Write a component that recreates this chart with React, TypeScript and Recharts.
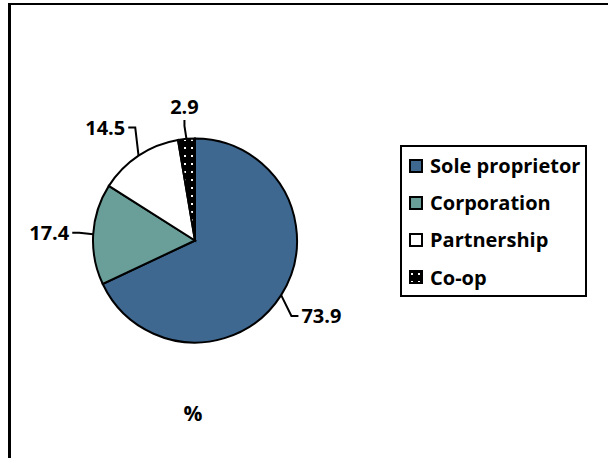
import { Cell, Legend, Pie, PieChart } from "recharts";

const categories = ["Sole proprietor", "Corporation", "Partnership", "Co-op"];
const shares = [73.9, 17.4, 14.5, 2.9];
const sliceColors = ["#3F6891", "#6A9E99", "#FFFFFF", "url(#coopDots)"];

const FONT = "'Open Sans', Lato, sans-serif";
const LABEL_SIZE = 20;

const data = categories.map((name, i) => ({ name, value: shares[i] }));

let measureCtx: CanvasRenderingContext2D | null = null;
function textWidth(text: string): number {
  if (!measureCtx) measureCtx = document.createElement("canvas").getContext("2d");
  if (!measureCtx) return text.length * LABEL_SIZE * 0.55;
  measureCtx.font = `bold ${LABEL_SIZE}px ${FONT}`;
  return measureCtx.measureText(text).width;
}

// excel-ish "best fit" labels: box corner sits just outside the rim,
// leader runs from the box side back to the middle of the slice edge
function renderLabel(props: any) {
  const { cx, cy, midAngle, outerRadius, value } = props;
  const rad = (-midAngle * Math.PI) / 180;
  const dx = Math.cos(rad);
  const dy = Math.sin(rad);
  const ex = cx + outerRadius * dx;
  const ey = cy + outerRadius * dy;
  const ax = cx + (outerRadius + 24) * dx;
  const ay = cy + (outerRadius + 24) * dy;
  const text = Number(value).toFixed(1);
  const w = textWidth(text);
  const h = 16;

  const left = dx > 0.25 ? ax : dx < -0.25 ? ax - w : ax - w / 2;
  const top = dy > 0.25 ? ay : dy < -0.25 ? ay - h : ay - h / 2;
  const tx = left + w / 2;
  const ty = top + h / 2;

  let points: string;
  if (Math.abs(dx) > 0.25) {
    const sx = dx > 0 ? left - 3 : left + w + 3;
    const kx = sx - Math.sign(dx) * 7;
    points = `${sx},${ty} ${kx},${ty} ${ex},${ey}`;
  } else {
    const sy = top + h + 5;
    points = `${tx},${sy} ${tx},${sy + 6} ${ex},${ey}`;
  }

  return (
    <g>
      <polyline points={points} fill="none" stroke="#000" strokeWidth={2} />
      <text
        x={tx}
        y={ty}
        textAnchor="middle"
        dominantBaseline="central"
        fontFamily={FONT}
        fontWeight="bold"
        fontSize={LABEL_SIZE}
        fill="#000"
      >
        {text}
      </text>
    </g>
  );
}

function LegendBox() {
  return (
    <div
      style={{
        width: 187,
        height: 152,
        border: "2px solid #000",
        boxSizing: "border-box",
        background: "#fff",
        paddingTop: 0,
        fontFamily: FONT,
        fontWeight: "bold",
        fontSize: 20,
        color: "#000",
      }}
    >
      {categories.map((name, i) => (
        <div
          key={name}
          style={{ display: "flex", alignItems: "center", height: 37.2, paddingLeft: 7 }}
        >
          <svg width={14} height={14} style={{ flex: "none" }}>
            <rect x={1} y={1} width={12} height={12} fill={sliceColors[i]} stroke="#000" strokeWidth={2} />
          </svg>
          <span style={{ marginLeft: 7, whiteSpace: "nowrap" }}>{name}</span>
        </div>
      ))}
    </div>
  );
}

export default function App() {
  return (
    <div
      style={{
        position: "fixed",
        left: 0,
        top: 0,
        width: 608,
        height: 458,
        background: "#fff",
        overflow: "hidden",
      }}
    >
      <div
        style={{
          position: "absolute",
          left: 8,
          top: 3,
          width: 640,
          height: 500,
          borderLeft: "3px solid #000",
          borderTop: "2px solid #000",
          boxSizing: "border-box",
        }}
      />
      <div style={{ position: "absolute", left: 0, top: 0 }}>
        <PieChart width={608} height={458} margin={{ top: 0, right: 0, bottom: 0, left: 0 }}>
          <defs>
            <pattern id="coopDots" width={7} height={8} patternUnits="userSpaceOnUse">
              <rect width={7} height={8} fill="#000" />
              <rect x={2} y={3} width={2} height={2} fill="#fff" />
            </pattern>
          </defs>
          <Pie
            data={data}
            dataKey="value"
            nameKey="name"
            cx={195}
            cy={240.5}
            outerRadius={102}
            startAngle={90}
            endAngle={-270}
            stroke="#000"
            strokeWidth={2}
            label={renderLabel}
            labelLine={false}
            isAnimationActive={false}
          >
            {data.map((d, i) => (
              <Cell key={d.name} fill={sliceColors[i]} />
            ))}
          </Pie>
          <Legend
            content={() => <LegendBox />}
            wrapperStyle={{ left: 400, top: 145, width: 187, height: 152 }}
          />
        </PieChart>
      </div>
      <div
        style={{
          position: "absolute",
          left: 173,
          top: 399,
          width: 40,
          textAlign: "center",
          fontFamily: FONT,
          fontWeight: "bold",
          fontSize: 21,
          color: "#000",
        }}
      >
        %
      </div>
    </div>
  );
}
